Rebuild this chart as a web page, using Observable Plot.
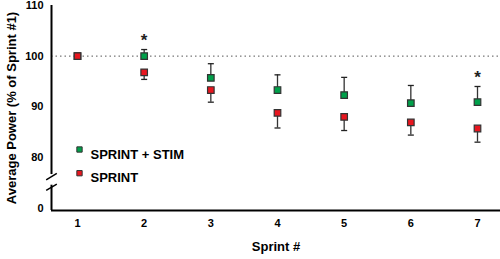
<!DOCTYPE html>
<html><head><meta charset="utf-8">
<script src="https://cdn.jsdelivr.net/npm/d3@7"></script>
<script src="https://cdn.jsdelivr.net/npm/@observablehq/plot@0.6"></script>
<style>
body{margin:0;background:#fff;}
#chart svg{font-family:"Liberation Sans",Arial,sans-serif;font-weight:bold;}
</style></head>
<body><div id="chart"></div>
<script>
const sprints = [1, 2, 3, 4, 5, 6, 7];
const stimMean = [100, 100, 95.7, 93.3, 92.3, 90.7, 90.9];
const stimSem = [0, 1.3, 2.8, 3.0, 3.5, 3.5, 3.1];
const sprintMean = [100, 96.8, 93.3, 88.8, 88.0, 86.9, 85.7];
const sprintSem = [0, 1.4, 2.4, 3.0, 2.7, 2.5, 2.7];
const significant = [2, 7];
const yTicks = [70, 80, 90, 100, 110];
const yTickLabels = ["0", "80", "90", "100", "110"];
const seriesNames = ["SPRINT + STIM", "SPRINT"];
const seriesColors = ["#00a04a", "#e8161f"];
const yDomain = [69.5, 110];
const xDomain = [0.61, 7.345];
const breakTop = 76.6, breakBottom = 74.5;

const stim = sprints.map((s, i) => ({s, m: stimMean[i], e: stimMean[i] + stimSem[i], sem: stimSem[i]}));
const spr = sprints.map((s, i) => ({s, m: sprintMean[i], e: sprintMean[i] - sprintSem[i], sem: sprintSem[i]}));
const stars = significant.map(s => stim.find(d => d.s === s));

const capSymbol = {draw(ctx, size) { const w = Math.sqrt(size); ctx.moveTo(-w / 2, 0); ctx.lineTo(w / 2, 0); }};
const slashSymbol = {draw(ctx, size) { const w = Math.sqrt(size); ctx.moveTo(-w / 2, w * 0.3); ctx.lineTo(w / 2, -w * 0.3); }};

const errBars = (data) => [
  Plot.ruleX(data.filter(d => d.sem > 0), {x: "s", y1: "m", y2: "e", stroke: "#333", strokeWidth: 1.3}),
  Plot.dot(data.filter(d => d.sem > 0), {x: "s", y: "e", symbol: capSymbol, r: 3.4, stroke: "#222", strokeWidth: 1.3})
];
const points = (data, color) => Plot.dot(data, {x: "s", y: "m", symbol: "square", r: 3.7, fill: color, stroke: "#333", strokeWidth: 1.2});

const chart = Plot.plot({
  width: 500, height: 259,
  marginTop: 5, marginBottom: 49, marginLeft: 51, marginRight: 0,
  style: {fontSize: "11px", fontWeight: "bold", fontFamily: "'Liberation Sans', Arial, sans-serif", color: "#000"},
  x: {domain: xDomain},
  y: {domain: yDomain},
  marks: [
    Plot.axisY({ticks: yTicks, tickFormat: (d) => yTickLabels[yTicks.indexOf(d)], tickSize: 0, tickPadding: 8,
      label: "Average Power (% of Sprint #1)", labelAnchor: "center", labelArrow: "none", labelOffset: 45, fontSize: 11}),
    Plot.axisX({ticks: sprints, tickFormat: d => String(d), tickSize: 0, tickPadding: 9,
      label: "Sprint #", labelAnchor: "center", labelArrow: "none", labelOffset: 40}),
    Plot.ruleY([100], {x1: xDomain[0], x2: xDomain[1], stroke: "#555", strokeDasharray: "1.5,3", strokeWidth: 1}),
    Plot.ruleX([xDomain[0]], {y1: yDomain[1], y2: breakTop, stroke: "#000", strokeWidth: 2}),
    Plot.ruleX([xDomain[0]], {y1: breakBottom, y2: yDomain[0], stroke: "#000", strokeWidth: 2}),
    Plot.dot([breakTop - 0.4, breakBottom - 0.4], {x: () => xDomain[0], y: d => d, symbol: slashSymbol, r: 6, stroke: "#000", strokeWidth: 1.5}),
    Plot.ruleY([yDomain[0]], {x1: xDomain[0], x2: xDomain[1], stroke: "#000", strokeWidth: 2}),
    ...errBars(stim), ...errBars(spr),
    points(stim, seriesColors[0]),
    points(spr, seriesColors[1]),
    Plot.text(stars, {x: "s", y: "e", text: () => "*", dy: -9, fontSize: 17, fontWeight: "bold", fill: "#222"}),
    Plot.dot([seriesNames[0]], {frameAnchor: "top-left", dx: 28, dy: 144, symbol: "square", r: 3, fill: seriesColors[0], stroke: "#333", strokeWidth: 1}),
    Plot.text([seriesNames[0]], {frameAnchor: "top-left", dx: 39, dy: 144, text: d => d, textAnchor: "start", fontSize: 13, fontWeight: "bold"}),
    Plot.dot([seriesNames[1]], {frameAnchor: "top-left", dx: 28, dy: 167.7, symbol: "square", r: 3, fill: seriesColors[1], stroke: "#333", strokeWidth: 1}),
    Plot.text([seriesNames[1]], {frameAnchor: "top-left", dx: 39, dy: 167.7, text: d => d, textAnchor: "start", fontSize: 13, fontWeight: "bold"})
  ]
});
chart.querySelectorAll("[aria-label='y-axis label'] text, [aria-label='x-axis label'] text").forEach(t => t.style.fontSize = "13px");
document.getElementById("chart").appendChild(chart);
</script></body></html>
